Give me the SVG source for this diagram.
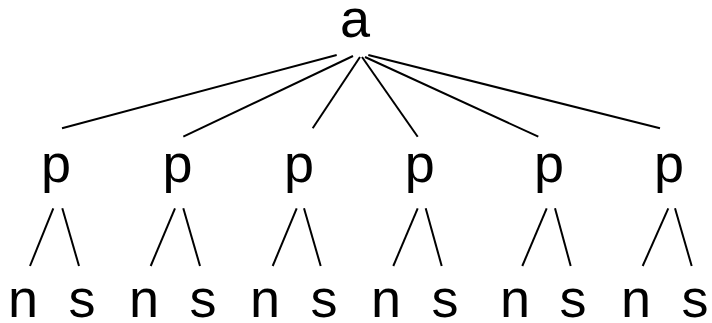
<svg xmlns="http://www.w3.org/2000/svg" width="712" height="323" viewBox="0 0 712 323">
<style>
text{font-family:"Liberation Sans",Arial,sans-serif;font-size:54px;fill:#000;text-anchor:middle}
.e line{stroke:#000;stroke-width:2;stroke-linecap:butt}
</style>
<rect width="712" height="323" fill="#fff"/>
<g class="e" id="connectors">
<line x1="336.7" y1="55" x2="62" y2="128.3"/>
<line x1="353" y1="56" x2="183.3" y2="136.7"/>
<line x1="360" y1="57" x2="312.7" y2="128.3"/>
<line x1="362" y1="57" x2="417.7" y2="136.7"/>
<line x1="365" y1="57" x2="538.3" y2="136.7"/>
<line x1="368.3" y1="55" x2="660" y2="128.3"/>
<line x1="53.3" y1="208.3" x2="30" y2="266"/>
<line x1="62.3" y1="208.3" x2="79" y2="266"/>
<line x1="175" y1="208.3" x2="150.7" y2="266"/>
<line x1="183.3" y1="208.3" x2="200" y2="266"/>
<line x1="296.7" y1="208.3" x2="272.7" y2="266"/>
<line x1="304" y1="208.3" x2="320.7" y2="266"/>
<line x1="417.7" y1="208.3" x2="393.3" y2="266"/>
<line x1="425.7" y1="208.3" x2="441.7" y2="266"/>
<line x1="546.7" y1="208.3" x2="522.3" y2="266"/>
<line x1="555" y1="208.3" x2="570.7" y2="266"/>
<line x1="668.3" y1="208.3" x2="642.7" y2="266"/>
<line x1="675" y1="208.3" x2="691.7" y2="266"/>
</g>
<g id="a"><text x="355" y="37">a</text></g>
<g id="p1"><text x="56" y="182">p</text></g>
<g id="p2"><text x="177.5" y="182">p</text></g>
<g id="p3"><text x="299" y="182">p</text></g>
<g id="p4"><text x="419.7" y="182">p</text></g>
<g id="p5"><text x="549" y="182">p</text></g>
<g id="p6"><text x="669" y="182">p</text></g>
<g id="n1"><text x="23" y="316.5">n</text></g>
<g id="s1"><text x="82" y="316.5">s</text></g>
<g id="n2"><text x="144" y="316.5">n</text></g>
<g id="s2"><text x="203" y="316.5">s</text></g>
<g id="n3"><text x="265" y="316.5">n</text></g>
<g id="s3"><text x="324" y="316.5">s</text></g>
<g id="n4"><text x="386" y="316.5">n</text></g>
<g id="s4"><text x="445" y="316.5">s</text></g>
<g id="n5"><text x="515" y="316.5">n</text></g>
<g id="s5"><text x="573" y="316.5">s</text></g>
<g id="n6"><text x="636" y="316.5">n</text></g>
<g id="s6"><text x="695" y="316.5">s</text></g>
</svg>
